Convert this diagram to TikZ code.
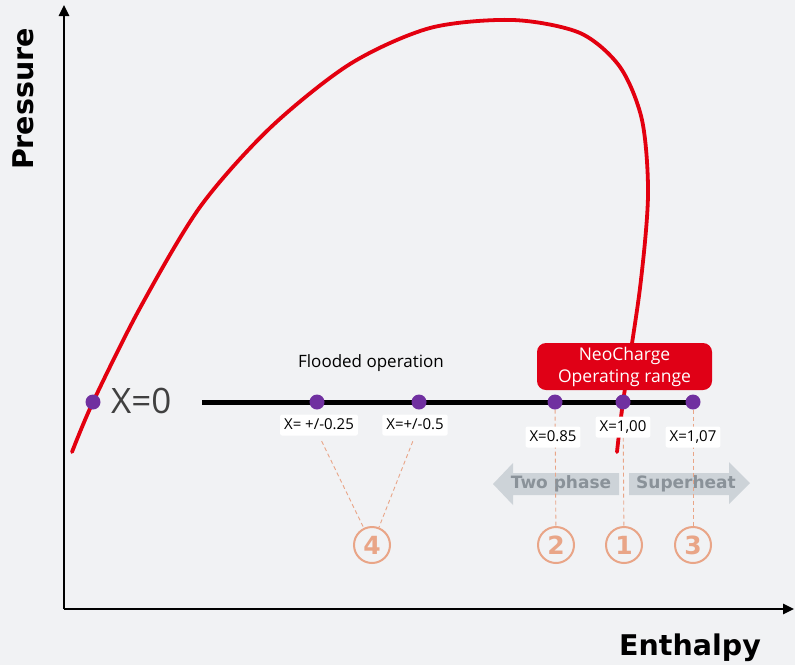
\documentclass[tikz,border=0pt]{standalone}
\usepackage{fontspec}
\setmainfont{Open Sans}
\newfontfamily\boldfont{DejaVu Sans}
\usetikzlibrary{arrows.meta}

\definecolor{bg}{HTML}{F1F2F4}
\definecolor{curvered}{HTML}{E3000F}
\definecolor{boxred}{HTML}{E00016}
\definecolor{dotpurple}{HTML}{7030A0}
\definecolor{salmon}{HTML}{E9A587}
\definecolor{arrowgray}{HTML}{CDD3D8}
\definecolor{textgray}{HTML}{8A9299}

\pgfdeclarelayer{back}
\pgfsetlayers{back,main}

\begin{document}
\begin{tikzpicture}[x=1pt, y=-1pt,
		dot/.style={circle, fill=dotpurple, inner sep=0pt, minimum size=15pt},
		qlabel/.style={fill=white, rounded corners=2pt, inner xsep=4pt, inner ysep=3.5pt, text height=11pt, text depth=3pt, font=\fontsize{15}{17}\selectfont},
		numcircle/.style={circle, draw=salmon, line width=2pt, text=salmon, minimum size=36pt, inner sep=0pt, font=\boldfont\bfseries\fontsize{25}{27}\selectfont},
		guide/.style={salmon, line width=0.9pt, dash pattern=on 4pt off 3pt},
		axislabel/.style={font=\boldfont\bfseries\fontsize{28.5}{30}\selectfont},
		rangetext/.style={text=textgray, font=\boldfont\bfseries\fontsize{17}{19}\selectfont}
	]
	\useasboundingbox (0,0) rectangle (795,665);

	\coordinate (o) at (64,609);
	\coordinate (ytip) at (64,5);
	\coordinate (xtip) at (794,609);
	\coordinate (lstart) at (202,402);

	\draw[-{Triangle[length=11pt,width=10pt]}, line width=2.5pt] (o) -- (ytip);
	\draw[-{Triangle[length=11pt,width=10pt]}, line width=2.5pt] (o) -- (xtip);
	\node[rotate=90, axislabel] (pressure) at (23,99) {Pressure};
	\node[anchor=base, axislabel] (enthalpy) at (690,655) {Enthalpy};

	\draw[curvered, line width=3.8pt, line cap=round] plot[smooth] coordinates {(72,452) (93,402) (140,308) (200,207) (270,128) (350,64) (430,28) (513,20) (580,33) (620,67) (642,120) (648,195) (640,288) (623,402) (617,452)};

	\node[dot] (d0) at (93,402) {};
	\node[dot] (d025) at (317,402) {};
	\node[dot] (d05) at (419,402) {};
	\node[dot] (d085) at (555,402) {};
	\node[dot] (d100) at (623,402) {};
	\node[dot] (d107) at (693,402) {};
	\begin{pgfonlayer}{back}
		\fill[bg] (0,0) rectangle (795,665);
		\draw[line width=5pt] (lstart) -- (d107.center);
	\end{pgfonlayer}

	\node[anchor=west, inner sep=0pt, text=black!75, font=\fontsize{35}{37}\selectfont] (x0) at (111,401) {X=0};
	\node (flooded) at (371,363) [font=\fontsize{17}{19}\selectfont] {Flooded operation};

	\node[qlabel] (l025) at (319,425) {X= +/-0.25};
	\node[qlabel] (l05) at (415,425) {X=+/-0.5};
	\node[qlabel] (l085) at (553,437) {X=0.85};
	\node[qlabel] (l100) at (623,427) {X=1,00};
	\node[qlabel] (l107) at (693,437) {X=1,07};

	\node[fill=boxred, rounded corners=9pt, minimum width=175pt, minimum height=47pt, text=white, align=center, font=\fontsize{17.5}{22}\selectfont] (neo) at (624.5,366.5) {NeoCharge\\Operating range};

	\node[numcircle] (c4) at (372,545) {4};
	\node[numcircle] (c2) at (556,545) {2};
	\node[numcircle] (c1) at (624,545) {1};
	\node[numcircle] (c3) at (693,545) {3};

	\begin{pgfonlayer}{back}
		\fill[arrowgray] (619,473) -- (513,473) -- (513,463) -- (493,484) -- (513,505) -- (513,495) -- (619,495) -- cycle;
		\fill[arrowgray] (629,473) -- (729,473) -- (729,462) -- (750,483) -- (729,504) -- (729,495) -- (629,495) -- cycle;
		\draw[guide] (d085) -- (c2);
		\draw[guide] (d100) -- (c1);
		\draw[guide] (d107) -- (c3);
		\draw[guide, shorten <=6pt] (l025.south) -- (c4);
		\draw[guide, shorten <=6pt] (l05.south) -- (c4);
	\end{pgfonlayer}
	\node[rangetext] (twophase) at (561,484) {Two phase};
	\node[rangetext] (superheat) at (686,484) {Superheat};
\end{tikzpicture}
\end{document}
